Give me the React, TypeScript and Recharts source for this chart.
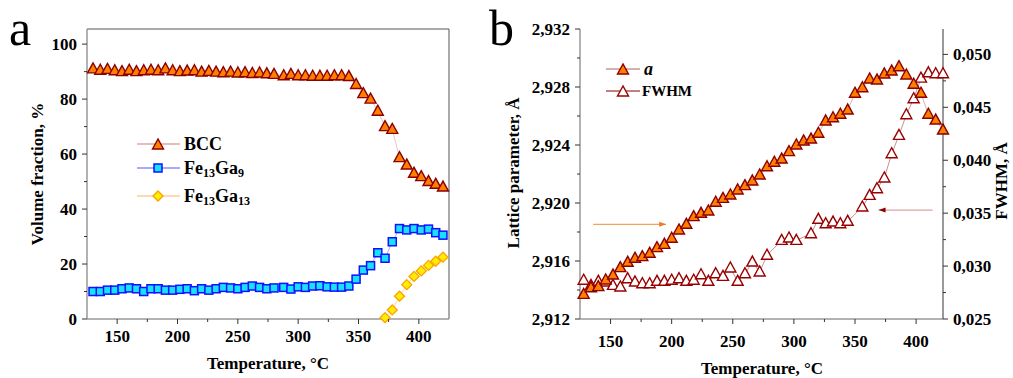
import React from 'react';
import { ComposedChart, Line, XAxis, YAxis, ReferenceLine } from 'recharts';

const serif = "'Liberation Serif', 'Times New Roman', 'DejaVu Serif', serif";

// ---- panel a: volume fractions ----
const tempsA = [
  130, 136, 142, 148, 154, 160, 166, 172, 178, 184, 190, 196, 202, 208, 214, 220, 226, 232, 238, 244,
  250, 256, 262, 268, 274, 280, 288, 294, 300, 306, 312, 318, 324, 330, 336, 342, 348, 354, 360, 366,
  372, 378, 384, 390, 396, 402, 408, 414, 420,
];
const bcc = [
  91, 90.5, 90.8, 90.3, 90, 90.5, 90, 90.3, 90.5, 90.3, 91, 90.3, 90, 90.2, 90.3, 89.8, 90.1, 89.8, 89.6, 89.8,
  89.5, 89.6, 89.3, 89.5, 89.2, 89, 88.5, 89, 88.5, 88.5, 88.3, 88.3, 88.3, 88.5, 88.5, 88.2, 85.3, 82, 80, 75.6,
  70, 69, 58.7, 56, 53, 51.8, 50, 49, 48,
];
const fe13ga9 = [
  10, 10, 10.5, 10.5, 11, 11.3, 11, 10, 11, 11, 10.5, 10.5, 10.8, 11, 10.3, 11, 10.5, 11, 11.5, 11.3,
  11, 11.5, 12, 11.5, 11, 11.3, 11.5, 10.9, 11.7, 11.5, 12, 12.1, 11.7, 11.6, 11.6, 12, 14.5, 17.8, 19.4, 24.1,
  22.1, 28.1, 32.9, 32.4, 32.9, 32.4, 32.7, 31.4, 30.5,
];
const fe13ga13Temps = [372, 378, 384, 390, 396, 402, 408, 414, 420];
const fe13ga13 = [0.5, 3.3, 8.3, 12.5, 15.5, 17.5, 19.5, 21, 22.5];

const xTicks = [150, 175, 200, 225, 250, 275, 300, 325, 350, 375, 400];
const yTicksA = [0, 10, 20, 30, 40, 50, 60, 70, 80, 90, 100];

// ---- panel b: lattice parameter and FWHM ----
const tempsB = [
  128, 134, 140, 146, 152, 158, 164, 170, 176, 182, 188, 194, 200, 206, 212, 218, 224, 230, 236, 242,
  248, 254, 260, 266, 272, 278, 284, 290, 296, 302, 308, 314, 320, 326, 332, 338, 344, 350, 356, 362,
  368, 374, 380, 386, 392, 398, 404, 410, 416, 422,
];
const lattice = [
  2.9137, 2.91416, 2.91423, 2.91469, 2.91503, 2.91554, 2.91591, 2.91619, 2.9163, 2.91653,
  2.91692, 2.91715, 2.91757, 2.91814, 2.91853, 2.91906, 2.91929, 2.91945, 2.92005, 2.92032,
  2.92055, 2.9209, 2.9212, 2.92152, 2.92193, 2.9225, 2.92281, 2.92303, 2.92354, 2.924,
  2.92428, 2.92441, 2.92481, 2.92566, 2.92588, 2.92612, 2.92641, 2.92757, 2.92795, 2.92855,
  2.92848, 2.9289, 2.9291, 2.9294, 2.92883, 2.92819, 2.92757, 2.92612, 2.92572, 2.92503,
];
const fwhm = [
  0.02866, 0.02818, 0.02856, 0.0285, 0.02818, 0.02802, 0.02881, 0.0285, 0.02833, 0.02833,
  0.02856, 0.02856, 0.02866, 0.02881, 0.02856, 0.02866, 0.02918, 0.02856, 0.02928, 0.02903,
  0.02982, 0.02856, 0.02928, 0.03038, 0.02944, 0.03102, null, 0.03243, 0.03265, 0.03243,
  null, 0.03306, 0.03442, 0.034, 0.03416, 0.034, 0.03423, null, 0.03558, 0.03668,
  0.03731, 0.03832, 0.04061, 0.04235, 0.0443, 0.04581, 0.04776, 0.04826, 0.04817, 0.04817,
];
const yTicksLattice = [2.912, 2.914, 2.916, 2.918, 2.92, 2.922, 2.924, 2.926, 2.928, 2.93, 2.932];
const yTicksFwhm = [0.025, 0.0275, 0.03, 0.0325, 0.035, 0.0375, 0.04, 0.0425, 0.045, 0.0475, 0.05];

const dataA = tempsA.map((t, i) => {
  const j = fe13ga13Temps.indexOf(t);
  return { t, bcc: bcc[i], fe9: fe13ga9[i], fe13: j >= 0 ? fe13ga13[j] : null };
});
const dataB = tempsB.map((t, i) => ({ t, a: lattice[i], fwhm: fwhm[i] }));

const tickFont = { fontFamily: serif, fontWeight: 700, fontSize: 17, fill: '#000' };

const XTick = (props: any) => {
  const { x, payload, axisY, labelY } = props;
  const v = payload.value;
  const major = v % 50 === 0;
  return (
    <g>
      <line x1={x} x2={x} y1={axisY} y2={axisY + (major ? 5 : 3)} stroke="#333" />
      {major && (
        <text x={x} y={labelY} textAnchor="middle" dominantBaseline="central" fontFamily={serif} style={tickFont}>
          {v}
        </text>
      )}
    </g>
  );
};

const YTick = (props: any) => {
  const { y, payload, axisX, side, isMajor, fmt } = props;
  const v = payload.value;
  const major = isMajor(v);
  const dir = side === 'left' ? -1 : 1;
  return (
    <g>
      <line x1={axisX} x2={axisX + dir * (major ? 5 : 3)} y1={y} y2={y} stroke="#333" />
      {major && (
        <text
          x={axisX + dir * 10}
          y={y}
          textAnchor={side === 'left' ? 'end' : 'start'}
          dominantBaseline="central"
          fontFamily={serif}
          style={tickFont}
        >
          {fmt(v)}
        </text>
      )}
    </g>
  );
};

const tri = (fill: string, stroke: string) => (p: any) => {
  const { cx, cy, index, value } = p;
  if (cx == null || cy == null || value == null) return <g key={index} />;
  return (
    <polygon
      key={index}
      points={`${cx},${cy - 6} ${cx - 5.5},${cy + 4} ${cx + 5.5},${cy + 4}`}
      fill={fill}
      stroke={stroke}
      strokeWidth={1.4}
    />
  );
};

const square = (p: any) => {
  const { cx, cy, index, value } = p;
  if (cx == null || cy == null || value == null) return <g key={index} />;
  return <rect key={index} x={cx - 4} y={cy - 4} width={8} height={8} fill="#19e0ff" stroke="#1010ff" strokeWidth={1.5} />;
};

const diamond = (p: any) => {
  const { cx, cy, index, value } = p;
  if (cx == null || cy == null || value == null) return <g key={index} />;
  return (
    <polygon
      key={index}
      points={`${cx},${cy - 5} ${cx + 5},${cy} ${cx},${cy + 5} ${cx - 5},${cy}`}
      fill="#ffee00"
      stroke="#ff9f00"
      strokeWidth={1.3}
    />
  );
};

const arrowShape = (color: string, headColor: string, headAtEnd: boolean) => (p: any) => {
  const { x1, y1, x2, y2 } = p;
  const hx = headAtEnd ? x2 : x1;
  const d = headAtEnd ? -1 : 1;
  return (
    <g>
      <line x1={x1} y1={y1} x2={x2} y2={y2} stroke={color} strokeWidth={1.3} />
      <polygon points={`${hx},${y1} ${hx + d * 7},${y1 - 2.5} ${hx + d * 7},${y1 + 2.5}`} fill={headColor} />
    </g>
  );
};

const fmt3 = (v: number) => v.toFixed(3).replace('.', ',');
const sub = { fontSize: 12 };

const Overlay = () => (
  <svg
    width={1013}
    height={378}
    fontFamily={serif}
    style={{ position: 'absolute', left: 0, top: 0, pointerEvents: 'none', fontFamily: serif }}
  >
    <text x={9} y={45} fontSize={50}>a</text>
    <text x={489} y={45} fontSize={50}>b</text>

    <g fontWeight={700} fontSize={17}>
      <text x={37} y={174} textAnchor="middle" dominantBaseline="central" transform="rotate(-90 37 174)">
        Volume fraction, %
      </text>
      <text x={268} y={363} textAnchor="middle" dominantBaseline="central">Temperature, °C</text>
      <text x={513} y={173} textAnchor="middle" dominantBaseline="central" transform="rotate(-90 513 173)">
        Lattice parameter, Å
      </text>
      <text x={1001} y={181} textAnchor="middle" dominantBaseline="central" transform="rotate(-90 1001 181)">
        FWHM, Å
      </text>
      <text x={762} y={368} textAnchor="middle" dominantBaseline="central">Temperature, °C</text>
    </g>

    {/* legend a */}
    <g fontWeight={700} fontSize={18}>
      <line x1={137} x2={180} y1={144} y2={144} stroke="#d8a8a8" strokeWidth={1.3} />
      {tri('#ff8000', '#8b0000')({ cx: 158, cy: 145, index: 'l1', value: 1 })}
      <text x={184} y={144} dominantBaseline="central">BCC</text>

      <line x1={137} x2={180} y1={168} y2={168} stroke="#8c8cff" strokeWidth={1.3} />
      {square({ cx: 158, cy: 168, index: 'l2', value: 1 })}
      <text x={184} y={168} dominantBaseline="central">
        Fe<tspan style={sub} dy={5}>13</tspan>
        <tspan dy={-5}>Ga</tspan>
        <tspan style={sub} dy={5}>9</tspan>
      </text>

      <line x1={137} x2={180} y1={196} y2={196} stroke="#ffcc99" strokeWidth={1.3} />
      {diamond({ cx: 158, cy: 196, index: 'l3', value: 1 })}
      <text x={184} y={196} dominantBaseline="central">
        Fe<tspan style={sub} dy={5}>13</tspan>
        <tspan dy={-5}>Ga</tspan>
        <tspan style={sub} dy={5}>13</tspan>
      </text>
    </g>

    {/* legend b */}
    <g fontWeight={700} fontSize={15}>
      <line x1={606} x2={640} y1={69} y2={69} stroke="#b06060" strokeWidth={1.2} />
      {tri('#ff8000', '#8b0000')({ cx: 623, cy: 70, index: 'l4', value: 1 })}
      <text x={644} y={69} dominantBaseline="central" fontStyle="italic" fontSize={18}>a</text>

      <line x1={606} x2={640} y1={91} y2={91} stroke="#8b0000" strokeWidth={1.2} />
      {tri('#ffffff', '#990000')({ cx: 623, cy: 92, index: 'l5', value: 1 })}
      <text x={642} y={91} dominantBaseline="central">FWHM</text>
    </g>
  </svg>
);

export default function App() {
  return (
    <div style={{ position: 'absolute', left: 0, top: 0, width: 1013, height: 378, background: '#fff', fontFamily: serif }}>
      <div style={{ position: 'absolute', left: 0, top: 0 }}>
        <ComposedChart width={460} height={378} data={dataA} margin={{ top: 29, right: 11, bottom: 29, left: 0 }}>
          <XAxis
            dataKey="t"
            type="number"
            domain={[125, 425]}
            ticks={xTicks}
            interval={0}
            height={30}
            tickSize={0}
            tickLine={false}
            axisLine={{ stroke: '#999', strokeWidth: 1.5 }}
            tick={(p: any) => <XTick {...p} axisY={319} labelY={336} />}
          />
          <YAxis
            type="number"
            domain={[0, 105.5]}
            ticks={yTicksA}
            interval={0}
            width={87}
            tickSize={0}
            tickLine={false}
            axisLine={{ stroke: '#999', strokeWidth: 1.5 }}
            tick={(p: any) => (
              <YTick {...p} axisX={87} side="left" isMajor={(v: number) => v % 20 === 0} fmt={(v: number) => String(v)} />
            )}
          />
          <ReferenceLine y={105.5} stroke="#555" ifOverflow="visible" />
          <ReferenceLine x={425} stroke="#555" ifOverflow="visible" />
          <Line dataKey="bcc" type="linear" stroke="#ecc4c4" strokeWidth={1} dot={tri('#ff8000', '#8b0000')} activeDot={false} isAnimationActive={false} />
          <Line dataKey="fe9" type="linear" stroke="#a8a8ff" strokeWidth={1} dot={square} activeDot={false} isAnimationActive={false} />
          <Line dataKey="fe13" type="linear" stroke="#ffd8a8" strokeWidth={1} dot={diamond} activeDot={false} isAnimationActive={false} />
        </ComposedChart>
      </div>

      <div style={{ position: 'absolute', left: 460, top: 0 }}>
        <ComposedChart width={553} height={378} data={dataB} margin={{ top: 29, right: 0, bottom: 29, left: 0 }}>
          <XAxis
            dataKey="t"
            type="number"
            domain={[125, 422]}
            ticks={xTicks}
            interval={0}
            height={30}
            tickSize={0}
            tickLine={false}
            axisLine={{ stroke: '#999', strokeWidth: 1.5 }}
            tick={(p: any) => <XTick {...p} axisY={319} labelY={341} />}
          />
          <YAxis
            yAxisId="l"
            type="number"
            domain={[2.912, 2.932]}
            ticks={yTicksLattice}
            interval={0}
            width={120}
            tickSize={0}
            tickLine={false}
            axisLine={{ stroke: '#999', strokeWidth: 1.5 }}
            tick={(p: any) => (
              <YTick {...p} axisX={120} side="left" isMajor={(v: number) => Math.round(v * 1000) % 4 === 0} fmt={fmt3} />
            )}
          />
          <YAxis
            yAxisId="r"
            orientation="right"
            type="number"
            domain={[0.025, 0.0524]}
            ticks={yTicksFwhm}
            interval={0}
            width={70}
            tickSize={0}
            tickLine={false}
            axisLine={{ stroke: '#555', strokeWidth: 1.2 }}
            tick={(p: any) => (
              <YTick {...p} axisX={483} side="right" isMajor={(v: number) => Math.round(v * 10000) % 50 === 0} fmt={fmt3} />
            )}
          />
          <ReferenceLine
            yAxisId="l"
            segment={[{ x: 135.7, y: 2.91853 }, { x: 195.5, y: 2.91853 }]}
            ifOverflow="visible"
            shape={arrowShape('#f5a35a', '#f07a20', true)}
          />
          <ReferenceLine
            yAxisId="r"
            segment={[{ x: 369.3, y: 0.03529 }, { x: 413.5, y: 0.03529 }]}
            ifOverflow="visible"
            shape={arrowShape('#dba3a3', '#8b0000', false)}
          />
          <Line yAxisId="r" dataKey="fwhm" type="linear" stroke="#c89090" strokeWidth={1} connectNulls dot={tri('#ffffff', '#990000')} activeDot={false} isAnimationActive={false} />
          <Line yAxisId="l" dataKey="a" type="linear" stroke="#e0b0b0" strokeWidth={1} dot={tri('#ff8000', '#8b0000')} activeDot={false} isAnimationActive={false} />
        </ComposedChart>
      </div>

      <Overlay />
    </div>
  );
}
